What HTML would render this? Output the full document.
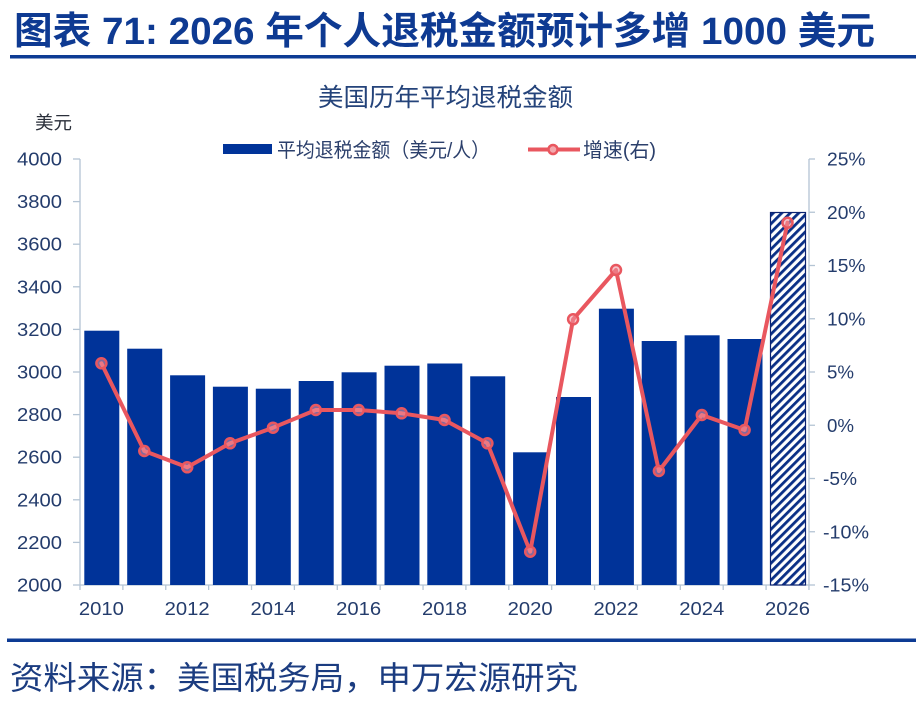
<!DOCTYPE html>
<html>
<head>
<meta charset="utf-8">
<style>
html,body{margin:0;padding:0;background:#fff;}
svg{display:block;}
text{font-family:"Liberation Sans","Noto Sans CJK SC",sans-serif;}
</style>
</head>
<body>
<svg width="922" height="706" viewBox="0 0 922 706" xmlns="http://www.w3.org/2000/svg">
<defs>
<pattern id="hatch" patternUnits="userSpaceOnUse" width="6" height="6" patternTransform="rotate(45)">
<rect x="0" y="0" width="6" height="6" fill="#ffffff"/>
<rect x="0" y="0" width="2.8" height="6" fill="#0a2f86"/>
</pattern>
</defs>
<rect width="922" height="706" fill="#fff"/>

<!-- Main title -->
<text x="14" y="44" font-size="38" font-weight="bold" fill="#0e3a92" textLength="861" lengthAdjust="spacingAndGlyphs">图表 71: 2026 年个人退税金额预计多增 1000 美元</text>
<rect x="10" y="55" width="906" height="3.5" fill="#0d3b94"/>

<!-- Chart title -->
<text x="318" y="106" font-size="25" fill="#24437a" textLength="255" lengthAdjust="spacingAndGlyphs">美国历年平均退税金额</text>

<!-- unit label -->
<text x="35" y="129" font-size="18" fill="#2a2f3a" textLength="37" lengthAdjust="spacingAndGlyphs">美元</text>

<!-- Legend -->
<rect x="223" y="144" width="49" height="10" fill="#003399"/>
<text x="277" y="157" font-size="20" fill="#2b3f6b" textLength="213" lengthAdjust="spacingAndGlyphs">平均退税金额（美元/人）</text>
<line x1="528" y1="149.5" x2="580" y2="149.5" stroke="#e9575f" stroke-width="4"/>
<circle cx="553" cy="149.5" r="4.5" fill="#f3a9ae" stroke="#e9575f" stroke-width="2.5"/>
<text x="583" y="157" font-size="20" fill="#2b3f6b" textLength="73" lengthAdjust="spacingAndGlyphs">增速(右)</text>

<!-- Axes -->
<g stroke="#b4c4d4" stroke-width="1.3" fill="none">
<line x1="80" y1="159" x2="80" y2="585"/>
<line x1="809" y1="159" x2="809" y2="585"/>
<line x1="80" y1="585" x2="809" y2="585"/>
<!-- left ticks -->
<line x1="73" y1="159" x2="80" y2="159"/>
<line x1="73" y1="201.6" x2="80" y2="201.6"/>
<line x1="73" y1="244.2" x2="80" y2="244.2"/>
<line x1="73" y1="286.8" x2="80" y2="286.8"/>
<line x1="73" y1="329.4" x2="80" y2="329.4"/>
<line x1="73" y1="372" x2="80" y2="372"/>
<line x1="73" y1="414.6" x2="80" y2="414.6"/>
<line x1="73" y1="457.2" x2="80" y2="457.2"/>
<line x1="73" y1="499.8" x2="80" y2="499.8"/>
<line x1="73" y1="542.4" x2="80" y2="542.4"/>
<line x1="73" y1="585" x2="80" y2="585"/>
<!-- right ticks -->
<line x1="809" y1="159" x2="815" y2="159"/>
<line x1="809" y1="212.25" x2="815" y2="212.25"/>
<line x1="809" y1="265.5" x2="815" y2="265.5"/>
<line x1="809" y1="318.75" x2="815" y2="318.75"/>
<line x1="809" y1="372" x2="815" y2="372"/>
<line x1="809" y1="425.25" x2="815" y2="425.25"/>
<line x1="809" y1="478.5" x2="815" y2="478.5"/>
<line x1="809" y1="531.75" x2="815" y2="531.75"/>
<line x1="809" y1="585" x2="815" y2="585"/>
<!-- x ticks -->
<line x1="80" y1="585" x2="80" y2="590"/>
<line x1="122.88" y1="585" x2="122.88" y2="590"/>
<line x1="165.76" y1="585" x2="165.76" y2="590"/>
<line x1="208.64" y1="585" x2="208.64" y2="590"/>
<line x1="251.52" y1="585" x2="251.52" y2="590"/>
<line x1="294.4" y1="585" x2="294.4" y2="590"/>
<line x1="337.28" y1="585" x2="337.28" y2="590"/>
<line x1="380.16" y1="585" x2="380.16" y2="590"/>
<line x1="423.04" y1="585" x2="423.04" y2="590"/>
<line x1="465.92" y1="585" x2="465.92" y2="590"/>
<line x1="508.8" y1="585" x2="508.8" y2="590"/>
<line x1="551.68" y1="585" x2="551.68" y2="590"/>
<line x1="594.56" y1="585" x2="594.56" y2="590"/>
<line x1="637.44" y1="585" x2="637.44" y2="590"/>
<line x1="680.32" y1="585" x2="680.32" y2="590"/>
<line x1="723.2" y1="585" x2="723.2" y2="590"/>
<line x1="766.08" y1="585" x2="766.08" y2="590"/>
<line x1="808.96" y1="585" x2="808.96" y2="590"/>
</g>

<!-- Left labels -->
<g font-size="18" fill="#243c6c" text-anchor="end">
<text x="62" y="165.5" textLength="45" lengthAdjust="spacingAndGlyphs">4000</text>
<text x="62" y="208.1" textLength="45" lengthAdjust="spacingAndGlyphs">3800</text>
<text x="62" y="250.7" textLength="45" lengthAdjust="spacingAndGlyphs">3600</text>
<text x="62" y="293.3" textLength="45" lengthAdjust="spacingAndGlyphs">3400</text>
<text x="62" y="335.9" textLength="45" lengthAdjust="spacingAndGlyphs">3200</text>
<text x="62" y="378.5" textLength="45" lengthAdjust="spacingAndGlyphs">3000</text>
<text x="62" y="421.1" textLength="45" lengthAdjust="spacingAndGlyphs">2800</text>
<text x="62" y="463.7" textLength="45" lengthAdjust="spacingAndGlyphs">2600</text>
<text x="62" y="506.3" textLength="45" lengthAdjust="spacingAndGlyphs">2400</text>
<text x="62" y="548.9" textLength="45" lengthAdjust="spacingAndGlyphs">2200</text>
<text x="62" y="591.5" textLength="45" lengthAdjust="spacingAndGlyphs">2000</text>
</g>

<!-- Right labels -->
<g font-size="18" fill="#243c6c">
<text x="827" y="165.5" textLength="38.5" lengthAdjust="spacingAndGlyphs">25%</text>
<text x="827" y="218.75" textLength="38.5" lengthAdjust="spacingAndGlyphs">20%</text>
<text x="827" y="272" textLength="38.5" lengthAdjust="spacingAndGlyphs">15%</text>
<text x="827" y="325.25" textLength="38.5" lengthAdjust="spacingAndGlyphs">10%</text>
<text x="827" y="378.5" textLength="27" lengthAdjust="spacingAndGlyphs">5%</text>
<text x="827" y="431.75" textLength="27" lengthAdjust="spacingAndGlyphs">0%</text>
<text x="823" y="485" textLength="34" lengthAdjust="spacingAndGlyphs">-5%</text>
<text x="823" y="538.25" textLength="46" lengthAdjust="spacingAndGlyphs">-10%</text>
<text x="823" y="591.5" textLength="46" lengthAdjust="spacingAndGlyphs">-15%</text>
</g>

<!-- X labels -->
<g font-size="18" fill="#243c6c" text-anchor="middle">
<text x="101.4" y="615" textLength="45" lengthAdjust="spacingAndGlyphs">2010</text>
<text x="187.2" y="615" textLength="45" lengthAdjust="spacingAndGlyphs">2012</text>
<text x="273.0" y="615" textLength="45" lengthAdjust="spacingAndGlyphs">2014</text>
<text x="358.7" y="615" textLength="45" lengthAdjust="spacingAndGlyphs">2016</text>
<text x="444.5" y="615" textLength="45" lengthAdjust="spacingAndGlyphs">2018</text>
<text x="530.2" y="615" textLength="45" lengthAdjust="spacingAndGlyphs">2020</text>
<text x="616.0" y="615" textLength="45" lengthAdjust="spacingAndGlyphs">2022</text>
<text x="701.8" y="615" textLength="45" lengthAdjust="spacingAndGlyphs">2024</text>
<text x="787.5" y="615" textLength="45" lengthAdjust="spacingAndGlyphs">2026</text>
</g>

<!-- Bars -->
<g fill="#003399">
<rect x="84.3" y="330.7" width="35" height="254.3"/>
<rect x="127.2" y="348.7" width="35" height="236.3"/>
<rect x="170.1" y="375.3" width="35" height="209.7"/>
<rect x="212.9" y="386.7" width="35" height="198.3"/>
<rect x="255.8" y="388.7" width="35" height="196.3"/>
<rect x="298.7" y="381" width="35" height="204"/>
<rect x="341.6" y="372.3" width="35" height="212.7"/>
<rect x="384.5" y="365.7" width="35" height="219.3"/>
<rect x="427.3" y="363.5" width="35" height="221.5"/>
<rect x="470.2" y="376.3" width="35" height="208.7"/>
<rect x="513.1" y="452.3" width="35" height="132.7"/>
<rect x="556.0" y="397" width="35" height="188"/>
<rect x="598.9" y="308.7" width="35" height="276.3"/>
<rect x="641.7" y="341" width="35" height="244"/>
<rect x="684.6" y="335.3" width="35" height="249.7"/>
<rect x="727.5" y="339" width="35" height="246"/>
</g>
<rect x="770.5" y="212.5" width="35" height="372.5" fill="url(#hatch)" stroke="#0a2270" stroke-width="1.2"/>

<!-- Growth line -->
<polyline fill="none" stroke="#e9575f" stroke-width="4" stroke-linejoin="round" stroke-linecap="round"
points="101.4,363.3 144.3,451 187.2,467.3 230.1,443.3 273.0,427.7 315.8,410 358.7,410 401.6,413.3 444.5,420 487.4,443.3 530.2,551.7 573.1,319.3 616.0,270 658.9,471 701.8,415 744.6,430 787.5,222.7"/>
<g fill="rgba(240,150,160,0.55)" stroke="#e9575f" stroke-width="2.5">
<circle cx="101.4" cy="363.3" r="5"/>
<circle cx="144.3" cy="451" r="5"/>
<circle cx="187.2" cy="467.3" r="5"/>
<circle cx="230.1" cy="443.3" r="5"/>
<circle cx="273.0" cy="427.7" r="5"/>
<circle cx="315.8" cy="410" r="5"/>
<circle cx="358.7" cy="410" r="5"/>
<circle cx="401.6" cy="413.3" r="5"/>
<circle cx="444.5" cy="420" r="5"/>
<circle cx="487.4" cy="443.3" r="5"/>
<circle cx="530.2" cy="551.7" r="5"/>
<circle cx="573.1" cy="319.3" r="5"/>
<circle cx="616.0" cy="270" r="5"/>
<circle cx="658.9" cy="471" r="5"/>
<circle cx="701.8" cy="415" r="5"/>
<circle cx="744.6" cy="430" r="5"/>
<circle cx="787.5" cy="222.7" r="5"/>
</g>

<!-- Bottom rule and source -->
<rect x="7" y="638.5" width="909" height="3.5" fill="#0d3b94"/>
<text x="10" y="689" font-size="32" fill="#1b3c80" textLength="568" lengthAdjust="spacingAndGlyphs">资料来源：美国税务局，申万宏源研究</text>
</svg>
</body>
</html>
